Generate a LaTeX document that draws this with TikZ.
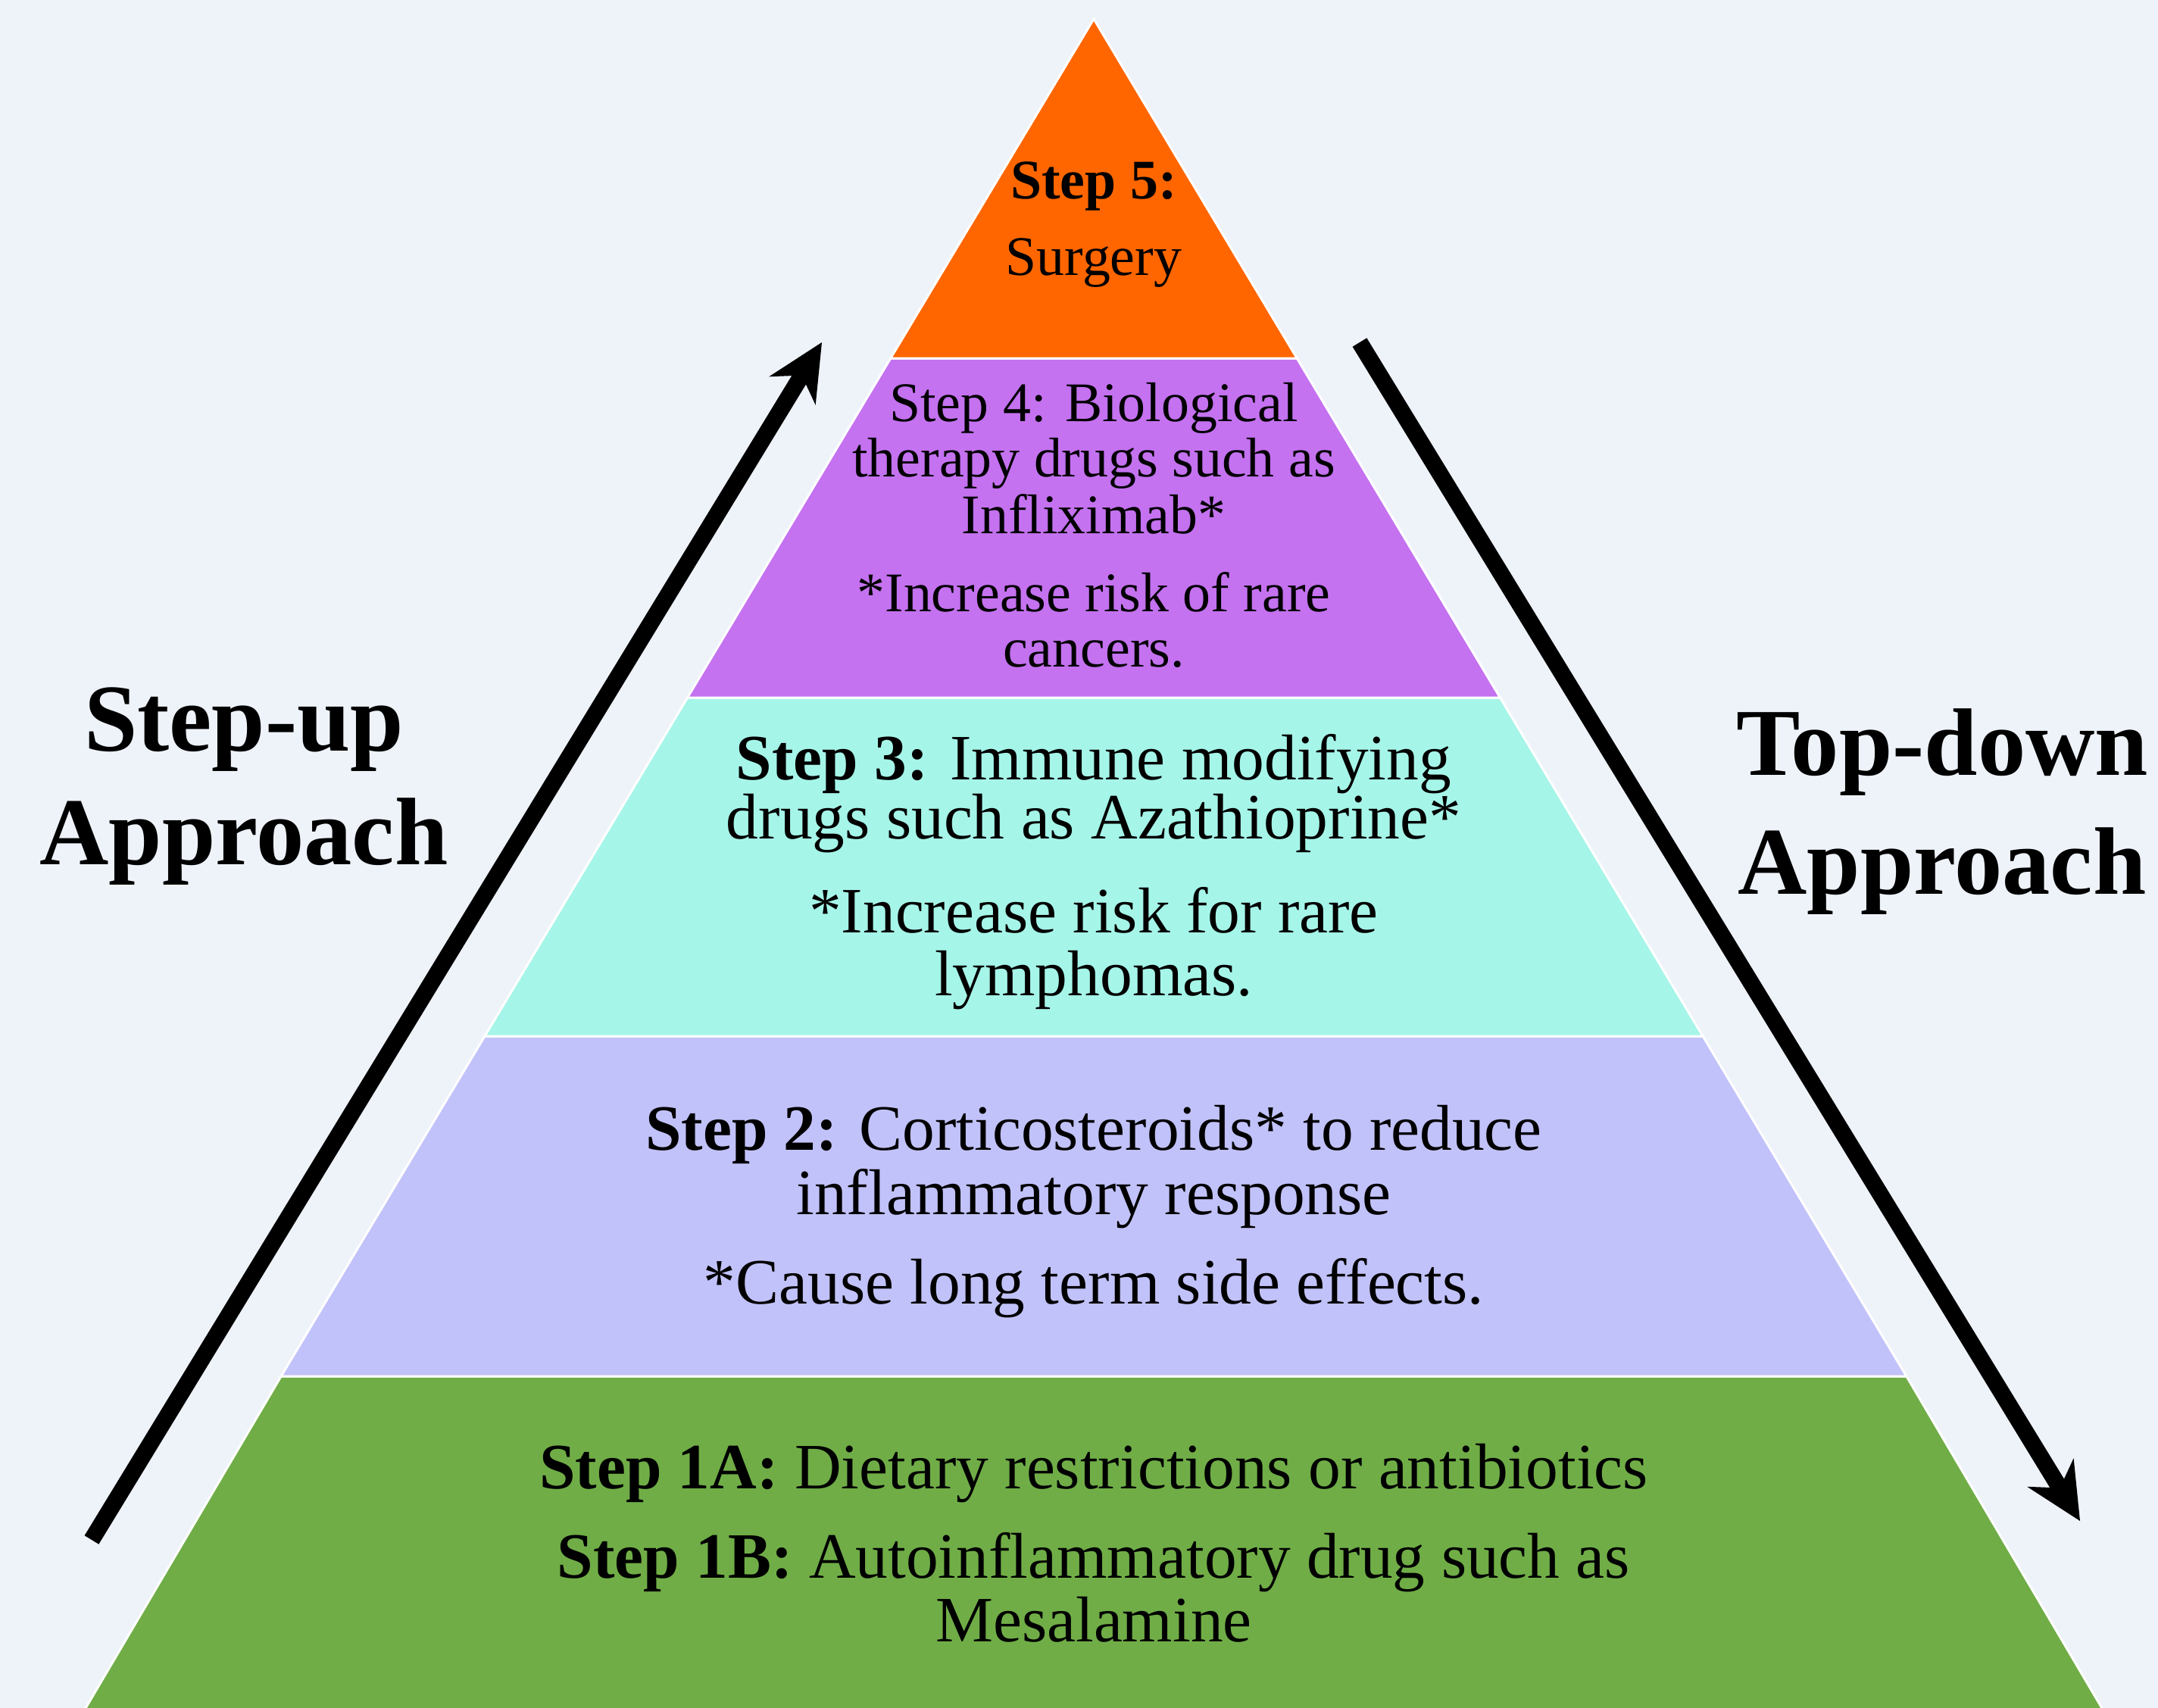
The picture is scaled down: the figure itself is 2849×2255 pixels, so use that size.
\documentclass[tikz,border=0pt]{standalone}
\usepackage{fontspec}
\setmainfont{Liberation Serif}
\usetikzlibrary{arrows.meta}
\definecolor{bg}{HTML}{EEF3FA}
\definecolor{c5}{HTML}{FF6600}
\definecolor{c4}{HTML}{C472F0}
\definecolor{c3}{HTML}{A6F5E9}
\definecolor{c2}{HTML}{C2C2FA}
\definecolor{c1}{HTML}{70AD47}
\begin{document}
\begin{tikzpicture}[x=0.1mm,y=-0.1mm,
  layer/.style={draw=white, line width=0.3mm, line join=miter},
  txt/.style={anchor=base, inner sep=0pt, font=\fontsize{24.3}{24.3}\selectfont},
  txts/.style={anchor=base, inner sep=0pt, font=\fontsize{21}{21}\selectfont},
  head/.style={anchor=base, inner sep=0pt, font=\fontsize{36}{36}\selectfont\bfseries},
  arr/.style={line width=2.2mm, line cap=butt, -{Stealth[length=7.5mm,width=7.2mm,inset=2.4mm,line width=0pt]}}]
\fill[bg] (0,0) rectangle (2849,2255);
\useasboundingbox (0,0) rectangle (2849,2255);
% layers
\filldraw[layer, fill=c1] (109,2262) -- (371.1,1817) -- (2516.9,1817) -- (2779,2262) -- cycle;
\filldraw[layer, fill=c2] (371.1,1817) -- (639.9,1368) -- (2248.1,1368) -- (2516.9,1817) -- cycle;
\filldraw[layer, fill=c3] (639.9,1368) -- (907.6,921) -- (1980.4,921) -- (2248.1,1368) -- cycle;
\filldraw[layer, fill=c4] (907.6,921) -- (1175.8,473) -- (1712.2,473) -- (1980.4,921) -- cycle;
\filldraw[layer, fill=c5] (1175.8,473) -- (1444,25) -- (1712.2,473) -- cycle;
% step 5
\node[txts] (t5a) at (1444,262) {\bfseries Step 5:};
\node[txts] (t5b) at (1444,363) {Surgery};
% step 4
\node[txts] (t4a) at (1444,556) {Step 4: Biological};
\node[txts] (t4b) at (1444,629) {therapy drugs such as};
\node[txts] (t4c) at (1444,704) {Infliximab*};
\node[txts] (t4d) at (1444,807) {*Increase risk of rare};
\node[txts] (t4e) at (1444,880) {cancers.};
% step 3
\node[txt] (t3a) at (1444,1029) {\textbf{Step 3:} Immune modifying};
\node[txt] (t3b) at (1444,1107) {drugs such as Azathioprine*};
\node[txt] (t3c) at (1444,1231) {*Increase risk for rare};
\node[txt] (t3d) at (1444,1314) {lymphomas.};
% step 2
\node[txt] (t2a) at (1444,1518) {\textbf{Step 2:} Corticosteroids* to reduce};
\node[txt] (t2b) at (1444,1603) {inflammatory response};
\node[txt] (t2c) at (1444,1721) {*Cause long term side effects.};
% step 1
\node[txt] (t1a) at (1444,1965) {\textbf{Step 1A:} Dietary restrictions or antibiotics};
\node[txt] (t1b) at (1444,2083) {\textbf{Step 1B:} Autoinflammatory drug such as};
\node[txt] (t1c) at (1444,2167) {Mesalamine};
% headers
\node[head] (hl1) at (322,991) {Step-up};
\node[head] (hl2) at (322,1141) {Approach};
\node[head] (hr1) at (2564,1023) {Top-down};
\node[head] (hr2) at (2564,1180) {Approach};
% arrows
\coordinate (lt) at (121,2033);
\coordinate (lh) at (1085,452);
\coordinate (rt) at (1795,452);
\coordinate (rh) at (2746,2008);
\draw[arr] (lt) -- (lh);
\draw[arr] (rt) -- (rh);
\end{tikzpicture}
\end{document}
